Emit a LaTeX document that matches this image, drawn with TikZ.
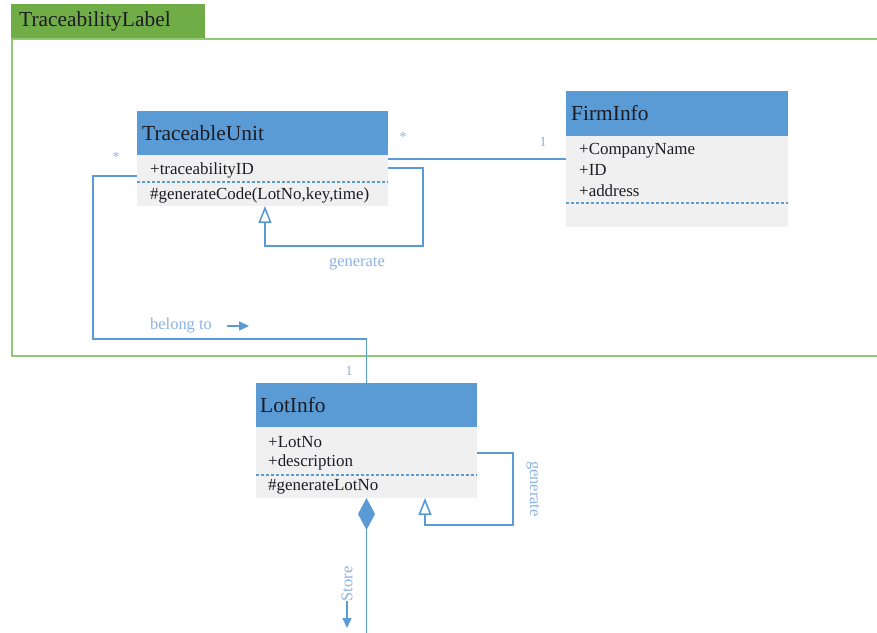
\documentclass[tikz,border=0pt]{standalone}
\usepackage{fontspec}
\setmainfont{Liberation Serif}
\usetikzlibrary{arrows.meta,calc}
\definecolor{hdr}{HTML}{5B9BD5}
\definecolor{bodyc}{HTML}{F0F0F0}
\definecolor{ln}{HTML}{5B9BD5}
\definecolor{lbl}{HTML}{8DB3E2}
\definecolor{tabg}{HTML}{70AD47}
\definecolor{frameg}{HTML}{92C775}
\definecolor{ink}{HTML}{1C1C24}
\begin{document}
\begin{tikzpicture}[x=1bp,y=-1bp,
  hdrbox/.style={fill=hdr,anchor=north west,inner sep=0,outer sep=0,rectangle},
  bodybox/.style={fill=bodyc,anchor=north west,inner sep=0,outer sep=0,rectangle},
  title/.style={anchor=west,font=\fontsize{21.5}{24}\selectfont,text=ink,inner sep=0},
  attr/.style={anchor=west,font=\fontsize{17}{19}\selectfont,text=ink,inner sep=0},
  conn/.style={draw=ln,line width=1.6bp},
  sep/.style={draw=ln,dash pattern=on 3bp off 2bp,line width=1.3bp},
  lab/.style={font=\fontsize{16.5}{18}\selectfont,text=lbl,inner sep=0},
  mult/.style={font=\fontsize{14}{15}\selectfont,text=lbl,inner sep=0},
  openarrow/.style={-{Triangle[open,length=17bp,width=13bp]}},
  smallarrow/.style={-{Triangle[length=10bp,width=9bp]}}
]
\useasboundingbox (0,0) rectangle (877,633);
\fill[white] (0,0) rectangle (877,633);

% package frame
\node[draw=frameg,line width=2bp,anchor=north west,inner sep=0,minimum width=870bp,minimum height=317bp] (frame) at (11,38) {};
\node[fill=tabg,anchor=north west,inner sep=0,minimum width=194bp,minimum height=34bp] (tab) at (11,4) {};
\node[anchor=west,inner sep=0,font=\fontsize{21.5}{24}\selectfont,text=ink] (tabt) at (19,21) {TraceabilityLabel};

% TraceableUnit
\node[hdrbox,minimum width=251bp,minimum height=44bp] (tuh) at (137,111) {};
\node[bodybox,minimum width=251bp,minimum height=51bp] (tub) at (137,155) {};
\node[title] (tut) at (142,133) {TraceableUnit};
\node[attr] (tua1) at (150,170) {+traceabilityID};
\node[attr] (tum1) at (150,195) {\#generateCode(LotNo,key,time)};
\draw[sep] (tub.west |- 0,182) -- (tub.east |- 0,182);

% FirmInfo
\node[hdrbox,minimum width=222bp,minimum height=45bp] (fih) at (566,91) {};
\node[bodybox,minimum width=222bp,minimum height=91bp] (fib) at (566,136) {};
\node[title] (fit) at (571,113) {FirmInfo};
\node[attr] (fia1) at (579,151) {+CompanyName};
\node[attr] (fia2) at (579,170) {+ID};
\node[attr] (fia3) at (579,191) {+address};
\draw[sep] (fib.west |- 0,203) -- (fib.east |- 0,203);

% LotInfo
\node[hdrbox,minimum width=221bp,minimum height=44bp] (lih) at (256,383) {};
\node[bodybox,minimum width=221bp,minimum height=71bp] (lib) at (256,427) {};
\node[title] (lit) at (260,405) {LotInfo};
\node[attr] (lia1) at (268,442) {+LotNo};
\node[attr] (lia2) at (268,462) {+description};
\node[attr] (lim1) at (268,487) {\#generateLotNo};
\draw[sep] (lib.west |- 0,475) -- (lib.east |- 0,475);

% TraceableUnit -- FirmInfo
\coordinate (p1) at ($(tuh.south east)+(0,4)$);
\draw[conn] (p1) -- (p1 -| fib.west);
\node[mult] (m1) at (403,137) {*};
\node[mult] (m2) at (543,142) {1};

% TraceableUnit self loop
\coordinate (p2) at ($(tub.north east)+(0,13)$);
\coordinate (p3) at (423,246);
\coordinate (p4) at (tub.south -| 265,0);
\draw[conn,openarrow] (p2) -| (p3) -| (p4);
\node[lab] (gen1) at (357,264) {generate};

% belong to
\coordinate (p5) at ($(tub.north west)+(0,21)$);
\coordinate (p6) at (93,339);
\draw[conn] (p5) -| (p6) -| (lih.north);
\node[mult] (m3) at (116,157) {*};
\node[mult] (m4) at (349,371) {1};
\node[lab,anchor=west] (bel) at (150,326) {belong to};
\coordinate (ba1) at (227,326);
\coordinate (ba2) at (249,326);
\draw[conn,line width=1.4bp,smallarrow] (ba1) -- (ba2);

% LotInfo self loop
\coordinate (q1) at ($(lib.north east)+(0,26)$);
\coordinate (q2) at (513,525);
\coordinate (q3) at (lib.south -| 425,0);
\draw[conn,openarrow] (q1) -| (q2) -| (q3);
\node[lab,rotate=-90] (gen2) at (533,489) {generate};

% Store (composition)
\coordinate (sEnd) at (lib.south |- 0,640);
\draw[conn,{Diamond[length=32bp,width=17bp,fill=ln]}-] (lib.south) -- (sEnd);
\node[lab,rotate=90] (store) at (347,584) {Store};
\coordinate (sa1) at (347,601);
\coordinate (sa2) at (347,628);
\draw[conn,line width=1.4bp,smallarrow] (sa1) -- (sa2);
\end{tikzpicture}
\end{document}
